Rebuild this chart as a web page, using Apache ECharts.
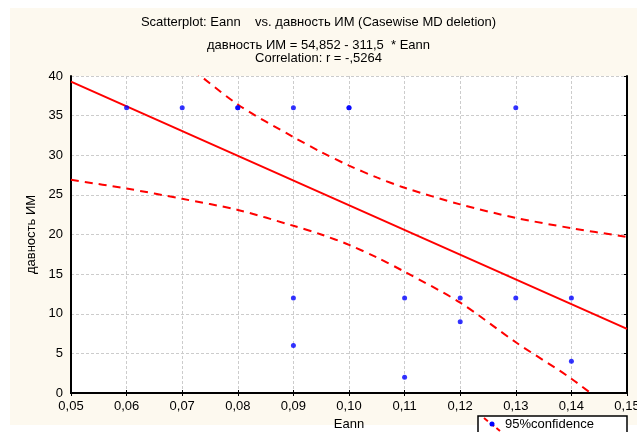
<!DOCTYPE html>
<html>
<head>
<meta charset="utf-8">
<script src="https://cdn.jsdelivr.net/npm/echarts@6/dist/echarts.min.js"></script>
<style>html,body{margin:0;padding:0;background:#fff}#c{width:637px;height:432px}</style>
</head>
<body>
<div id="c"></div>
<script>
// Data
var pointsX = [0.06, 0.07, 0.08, 0.08, 0.09, 0.10, 0.10, 0.13, 0.09, 0.09, 0.11, 0.11, 0.12, 0.12, 0.13, 0.14, 0.14];
var pointsY = [36, 36, 36, 36, 36, 36, 36, 36, 12, 6, 12, 2, 12, 9, 12, 12, 4];
var fitX = [0.05, 0.15];
var fitY = [39.3, 8.1];
var upperX = [0.07, 0.08, 0.09, 0.095, 0.10, 0.105, 0.11, 0.12, 0.13, 0.14, 0.15];
var upperY = [41.9, 36.4, 32.3, 30.4, 28.7, 27.2, 25.9, 23.8, 22.1, 20.8, 19.7];
var lowerX = [0.05, 0.06, 0.07, 0.08, 0.09, 0.095, 0.10, 0.105, 0.11, 0.12, 0.13, 0.14, 0.15];
var lowerY = [26.9, 25.8, 24.5, 23.1, 21.1, 20.0, 18.7, 17.1, 15.3, 11.4, 6.4, 1.8, -3.6];
var titleLines = ['Scatterplot: Eann    vs. давность ИМ (Casewise MD deletion)', 'давность ИМ = 54,852 - 311,5  * Eann', 'Correlation: r = -,5264'];
var legendLabel = '95%confidence';

function zip(a, b) { return a.map(function (v, i) { return [v, b[i]]; }); }
var FONT = 'Liberation Sans';
var chart = echarts.init(document.getElementById('c'));
var option = {
  backgroundColor: '#ffffff',
  animation: false,
  textStyle: { fontFamily: FONT },
  graphic: [
    { type: 'rect', z: -10, shape: { x: 10, y: 8, width: 627, height: 417 }, style: { fill: '#fdf9ef' } },
    { type: 'text', left: 'center', top: 16, style: { text: titleLines[0], font: '13px "Liberation Sans"', fill: '#000' } },
    { type: 'text', left: 'center', top: 39, style: { text: titleLines[1], font: '13px "Liberation Sans"', fill: '#000' } },
    { type: 'text', left: 'center', top: 52, style: { text: titleLines[2], font: '13px "Liberation Sans"', fill: '#000' } },
    { type: 'rect', z: 10, shape: { x: 478, y: 416, width: 149, height: 20 }, style: { fill: '#ffffff', stroke: '#000', lineWidth: 1.5 } },
    { type: 'line', z: 11, shape: { x1: 484, y1: 418, x2: 500, y2: 431 }, style: { stroke: '#ff0000', lineWidth: 2, lineDash: [5, 3] } },
    { type: 'circle', z: 12, shape: { cx: 492, cy: 424, r: 2.5 }, style: { fill: '#0000ff' } },
    { type: 'text', z: 12, left: 505, top: 418, style: { text: legendLabel, font: '13px "Liberation Sans"', fill: '#000' } }
  ],
  grid: {
    left: 71, top: 76, right: 10, bottom: 39,
    outerBoundsMode: 'none', containLabel: false,
    show: true, backgroundColor: '#ffffff', borderColor: '#000', borderWidth: 0
  },
  xAxis: [{
    type: 'value', min: 0.05, max: 0.15, interval: 0.01,
    name: 'Eann', nameLocation: 'middle', nameGap: 24,
    nameTextStyle: { fontSize: 13, color: '#000', fontFamily: FONT },
    axisLine: { show: true, lineStyle: { color: '#000', width: 2 } },
    axisTick: { show: true, inside: true, length: 3, lineStyle: { color: '#000' } },
    axisLabel: { color: '#000', fontSize: 13, margin: 7, fontFamily: FONT, formatter: function (v) { return v.toFixed(2).replace('.', ','); } },
    splitLine: { show: true, lineStyle: { color: '#cccccc', type: [3, 2], width: 1 } }
  }, {
    type: 'value', position: 'top', min: 0.05, max: 0.15, interval: 0.01,
    axisLine: { show: true, lineStyle: { color: '#000', width: 2 } },
    axisTick: { show: true, inside: true, length: 3, lineStyle: { color: '#000' } },
    axisLabel: { show: false }, splitLine: { show: false }
  }],
  yAxis: [{
    type: 'value', min: 0, max: 40, interval: 5,
    name: 'давность ИМ', nameLocation: 'middle', nameGap: 33, nameRotate: 90,
    nameTextStyle: { fontSize: 13, color: '#000', fontFamily: FONT },
    axisLine: { show: true, lineStyle: { color: '#000', width: 2 } },
    axisTick: { show: false },
    axisLabel: { color: '#000', fontSize: 13, margin: 8, fontFamily: FONT },
    splitLine: { show: true, lineStyle: { color: '#cccccc', type: [3, 2], width: 1 } }
  }, {
    type: 'value', position: 'right', min: 0, max: 40, interval: 5,
    axisLine: { show: true, lineStyle: { color: '#000', width: 2 } },
    axisTick: { show: true, inside: true, length: 3, lineStyle: { color: '#000' } },
    axisLabel: { show: false }, splitLine: { show: false }
  }],
  series: [
    { type: 'line', name: 'fit', data: zip(fitX, fitY), symbol: 'none', lineStyle: { color: '#ff0000', width: 2 }, z: 3 },
    { type: 'line', name: legendLabel, data: zip(upperX, upperY), smooth: 0.3, symbol: 'none', clip: true, lineStyle: { color: '#ff0000', width: 2, type: [8, 6] }, z: 3 },
    { type: 'line', name: legendLabel + ' lower', data: zip(lowerX, lowerY), smooth: 0.3, symbol: 'none', clip: true, lineStyle: { color: '#ff0000', width: 2, type: [8, 6] }, z: 3 },
    { type: 'scatter', name: 'points', data: zip(pointsX, pointsY), symbol: 'circle', symbolSize: 5, itemStyle: { color: '#0000ff' }, z: 4 }
  ]
};
chart.setOption(option);
</script>
</body>
</html>
